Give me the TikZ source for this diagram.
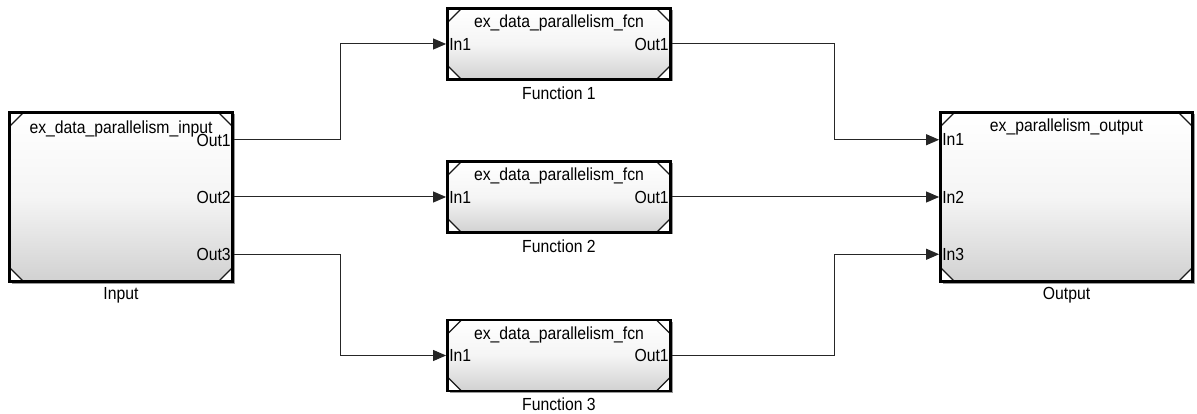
\documentclass[tikz,border=0pt]{standalone}
\usepackage{fontspec}
\setmainfont{Liberation Sans}[FakeStretch=0.9]
\usetikzlibrary{calc,arrows.meta,shadows}
\begin{document}
\begin{tikzpicture}[x=1pt,y=-1pt,
  every node/.style={font=\fontsize{17.5}{20}\selectfont, text=black},
  cornertris/.style={path picture={
    \def\cs{14pt}
    \filldraw[fill=white,draw=black!90,line width=1.1pt]
      (path picture bounding box.north west) -- ++(\cs,0pt) -- ++(-\cs,-\cs) -- cycle;
    \filldraw[fill=white,draw=black!90,line width=1.1pt]
      (path picture bounding box.north east) -- ++(-\cs,0pt) -- ++(\cs,-\cs) -- cycle;
    \filldraw[fill=white,draw=black!90,line width=1.1pt]
      (path picture bounding box.south west) -- ++(\cs,0pt) -- ++(-\cs,\cs) -- cycle;
    \filldraw[fill=white,draw=black!90,line width=1.1pt]
      (path picture bounding box.south east) -- ++(-\cs,0pt) -- ++(\cs,\cs) -- cycle;
  }},
  blk/.style={rectangle, draw=black, line width=2.8pt, inner sep=0pt,
    top color=white, bottom color=black!18, middle color=black!4,
    cornertris,
    drop shadow={shadow xshift=2pt, shadow yshift=-2pt, fill=black!40, opacity=1}},
  conn/.style={draw=black!85, line width=1pt, -{Triangle[length=13pt,width=11pt]}},
  plab/.style={inner sep=2pt},
]
\useasboundingbox (0,0) rectangle (1197,414);

% blocks
\node[blk, minimum width=223pt, minimum height=169pt] (inp) at (121,197) {};
\node[blk, minimum width=252pt, minimum height=169pt] (out) at (1066.5,197) {};
\node[blk, minimum width=223pt, minimum height=71pt] (f1) at (559,44) {};
\node[blk, minimum width=223pt, minimum height=71pt] (f2) at (559,197) {};
\node[blk, minimum width=223pt, minimum height=71pt] (f3) at (559,355.5) {};

% ports
\coordinate (iO1) at ($(inp.north east)!1/6!(inp.south east)$);
\coordinate (iO2) at ($(inp.north east)!3/6!(inp.south east)$);
\coordinate (iO3) at ($(inp.north east)!5/6!(inp.south east)$);
\coordinate (oI1) at ($(out.north west)!1/6!(out.south west)$);
\coordinate (oI2) at ($(out.north west)!3/6!(out.south west)$);
\coordinate (oI3) at ($(out.north west)!5/6!(out.south west)$);
\coordinate (xl) at (340,0);
\coordinate (xr) at (834,0);

% titles
\node (inpT) at ([yshift=-18pt]inp.north) {ex\_data\_parallelism\_input};
\node (outT) at ([yshift=-16pt]out.north) {ex\_parallelism\_output};
\node (f1T) at ([yshift=-16pt]f1.north) {ex\_data\_parallelism\_fcn};
\node (f2T) at ([yshift=-16pt]f2.north) {ex\_data\_parallelism\_fcn};
\node (f3T) at ([yshift=-16pt]f3.north) {ex\_data\_parallelism\_fcn};

% port labels
\node[plab, anchor=east] (lo1) at ([xshift=-1pt,yshift=-1pt]iO1) {Out1};
\node[plab, anchor=east] (lo2) at ([xshift=-1pt]iO2) {Out2};
\node[plab, anchor=east] (lo3) at ([xshift=-1pt]iO3) {Out3};
\node[plab, anchor=west] (li1) at ([xshift=1pt]oI1) {In1};
\node[plab, anchor=west] (li2) at ([xshift=1pt]oI2) {In2};
\node[plab, anchor=west] (li3) at ([xshift=1pt]oI3) {In3};
\node[plab, anchor=west] (f1i) at ([xshift=1pt]f1.west) {In1};
\node[plab, anchor=east] (f1o) at ([xshift=-1pt]f1.east) {Out1};
\node[plab, anchor=west] (f2i) at ([xshift=1pt]f2.west) {In1};
\node[plab, anchor=east] (f2o) at ([xshift=-1pt]f2.east) {Out1};
\node[plab, anchor=west] (f3i) at ([xshift=1pt]f3.west) {In1};
\node[plab, anchor=east] (f3o) at ([xshift=-1pt]f3.east) {Out1};

% captions
\node (inpC) at ([yshift=-12pt]inp.south) {Input};
\node (outC) at ([yshift=-12pt]out.south) {Output};
\node (f1C) at ([yshift=-12pt]f1.south) {Function 1};
\node (f2C) at ([yshift=-12pt]f2.south) {Function 2};
\node (f3C) at ([yshift=-12pt]f3.south) {Function 3};

% connectors
\draw[conn] (iO1) -- (iO1 -| xl) -- (xl |- f1.west) -- (f1.west);
\draw[conn] (iO2) -- (f2.west);
\draw[conn] (iO3) -- (iO3 -| xl) -- (xl |- f3.west) -- (f3.west);
\draw[conn] (f1.east) -- (f1.east -| xr) -- (xr |- oI1) -- (oI1);
\draw[conn] (f2.east) -- (oI2);
\draw[conn] (f3.east) -- (f3.east -| xr) -- (xr |- oI3) -- (oI3);
\end{tikzpicture}
\end{document}
